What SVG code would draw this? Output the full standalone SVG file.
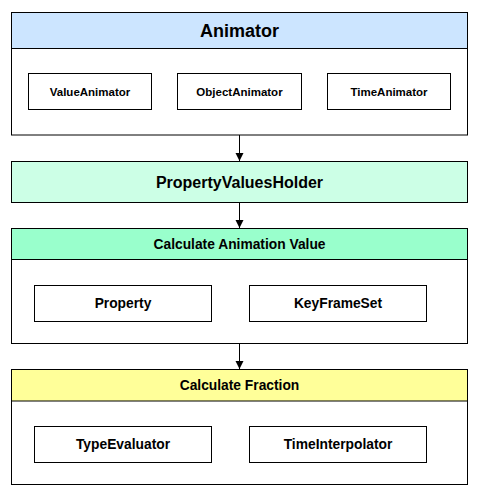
<svg xmlns="http://www.w3.org/2000/svg" width="479" height="495" viewBox="0 0 479 495">
<style>
  .box { fill: #ffffff; stroke: #000000; stroke-width: 1; }
  .hdr { stroke: #000000; stroke-width: 1; }
  .t { font-family: "Liberation Sans", Arial, Helvetica, sans-serif; font-weight: bold; fill: #000000; text-anchor: middle; dominant-baseline: central; }
  .conn { stroke: #000000; stroke-width: 1; fill: none; marker-end: url(#arrow); }
</style>
<defs>
  <marker id="arrow" viewBox="0 0 8 9" refX="8" refY="4.5" markerWidth="8" markerHeight="9" orient="auto" markerUnits="userSpaceOnUse">
    <path d="M0,0.5 L8,4.5 L0,8.5 Z" fill="#000000"/>
  </marker>
</defs>
<rect width="479" height="495" fill="#ffffff"/>

<g id="animator">
  <rect class="box" x="11.5" y="12.5" width="456" height="122.5"/>
  <rect class="hdr" x="11.5" y="12.5" width="456" height="36" fill="#cce5ff"/>
  <text class="t" x="239.5" y="31" font-size="18">Animator</text>
</g>
<g id="valueAnimator">
  <rect class="box" x="28.5" y="73.5" width="123" height="36"/>
  <text class="t" x="90" y="91.5" font-size="11.5">ValueAnimator</text>
</g>
<g id="objectAnimator">
  <rect class="box" x="177.5" y="73.5" width="124" height="36"/>
  <text class="t" x="239.5" y="91.5" font-size="11.5">ObjectAnimator</text>
</g>
<g id="timeAnimator">
  <rect class="box" x="327.5" y="73.5" width="123" height="36"/>
  <text class="t" x="389" y="91.5" font-size="11.5">TimeAnimator</text>
</g>

<g id="propertyValuesHolder">
  <rect class="hdr" x="11.5" y="161.5" width="456" height="41" fill="#ccffe6"/>
  <text class="t" x="239.5" y="182.5" font-size="16">PropertyValuesHolder</text>
</g>

<g id="calcAnimationValue">
  <rect class="box" x="11.5" y="228.5" width="456" height="115"/>
  <rect class="hdr" x="11.5" y="228.5" width="456" height="31" fill="#99ffcc"/>
  <text class="t" x="239.5" y="244.5" font-size="13.8">Calculate Animation Value</text>
</g>
<g id="property">
  <rect class="box" x="34.5" y="285.5" width="177" height="36"/>
  <text class="t" x="123" y="303.5" font-size="13.8">Property</text>
</g>
<g id="keyFrameSet">
  <rect class="box" x="249.5" y="285.5" width="177" height="36"/>
  <text class="t" x="338" y="303.5" font-size="13.8">KeyFrameSet</text>
</g>

<g id="calcFraction">
  <rect class="box" x="11.5" y="369.5" width="456" height="115"/>
  <rect class="hdr" x="11.5" y="369.5" width="456" height="31.5" fill="#ffff99"/>
  <text class="t" x="239.5" y="385.5" font-size="13.8">Calculate Fraction</text>
</g>
<g id="typeEvaluator">
  <rect class="box" x="34.5" y="426.5" width="177" height="36"/>
  <text class="t" x="123" y="444.5" font-size="13.8">TypeEvaluator</text>
</g>
<g id="timeInterpolator">
  <rect class="box" x="249.5" y="426.5" width="177" height="36"/>
  <text class="t" x="338" y="444.5" font-size="13.8">TimeInterpolator</text>
</g>

<g id="connectors">
  <line class="conn" x1="239.5" y1="135" x2="239.5" y2="161"/>
  <line class="conn" x1="239.5" y1="202.5" x2="239.5" y2="228"/>
  <line class="conn" x1="239.5" y1="343.5" x2="239.5" y2="369"/>
</g>
</svg>
